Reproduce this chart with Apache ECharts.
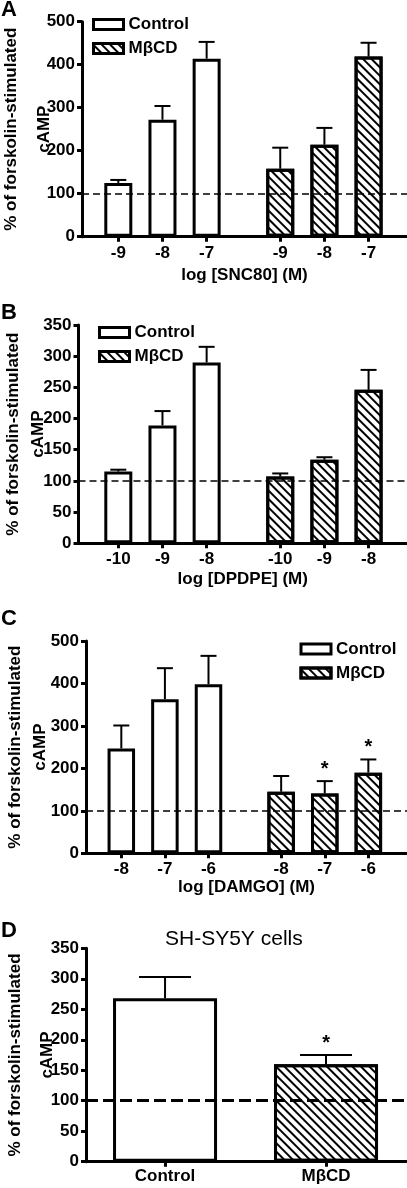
<!DOCTYPE html>
<html><head><meta charset="utf-8">
<script src="https://cdn.jsdelivr.net/npm/echarts@6/dist/echarts.min.js"></script>
<style>html,body{margin:0;padding:0;background:#fff}#chart{width:407px;height:1188px}</style>
</head><body><div id="chart"></div>
<script>
// ---------------- data ----------------
const dosesA = ['-9', '-8', '-7'];
const controlA = [125, 272, 414];
const controlSemA = [7, 32, 39];
const mbcdA = [158, 214, 419];
const mbcdSemA = [49, 39, 32];

const dosesB = ['-10', '-9', '-8'];
const controlB = [115, 189, 290];
const controlSemB = [3, 23, 25];
const mbcdB = [107, 134, 246];
const mbcdSemB = [5, 4, 32];

const dosesC = ['-8', '-7', '-6'];
const controlC = [247, 363, 398];
const controlSemC = [54, 73, 67];
const mbcdC = [145, 141, 190];
const mbcdSemC = [37, 29, 31];
const mbcdSigC = [0, 1, 1];

const groupsD = ['Control', 'MβCD'];
const meanD = [268, 160];
const semD = [35, 15];
const sigD = [0, 1];

const seriesNames = ['Control', 'MβCD'];
const xTitles = ['log [SNC80] (M)', 'log [DPDPE] (M)', 'log [DAMGO] (M)'];
const yTitle = '% of forskolin-stimulated\ncAMP';
const panelLetters = ['A', 'B', 'C', 'D'];
const titleD = 'SH-SY5Y cells';
const yMax = [500, 350, 500, 350];
const yStep = [100, 50, 100, 50];
const baseline = 100;

// ---------------- layout ----------------
const FONT = '"Liberation Sans", Arial, Helvetica, sans-serif';
const slots = [0, 3, 6, 11, 14, 17];
const slotsD = [0, 1];
const layout = [
  {grid: {left: 82, top: 21.7, right: 0, height: 215}, xMin: -2.466, xMax: 19.61, barW: 28, cap: 8, yGap: 21, yLH: 33, xGap: 30, legend: {left: 92, top: 16}},
  {grid: {left: 78.5, top: 325, right: 0, height: 218.3}, xMin: -2.704, xMax: 19.61, barW: 28, cap: 8, yGap: 28, yLH: 25, xGap: 28, legend: {left: 98, top: 324}},
  {grid: {left: 86, top: 641, right: 0, height: 212.3}, xMin: -2.43, xMax: 19.66, barW: 27.5, cap: 8, yGap: 33, yLH: 25, xGap: 26, legend: {left: 299.5, top: 640.5}},
  {grid: {left: 86, top: 948.3, right: 0, height: 213.4}, xMin: -0.491, xMax: 1.503, barW: 104, cap: 26, yGap: 23, yLH: 32, xGap: 0, legend: null}
];
const letterPos = [{left: 1, top: -1}, {left: 1, top: 302}, {left: 1, top: 608}, {left: 1, top: 920}];

const hatch = {symbol: 'rect', symbolSize: 1, color: '#000', dashArrayX: [1, 0], dashArrayY: [2, 4], rotation: Math.PI / 4};
const ctrlStyle = {color: '#fff', borderColor: '#000', borderWidth: 3};
const mbcdStyle = {color: '#fff', borderColor: '#000', borderWidth: 3, decal: hatch};
const boldText = {fontFamily: FONT, fontSize: 17, fontWeight: 'bold', color: '#000'};

const option = {
  animation: false,
  backgroundColor: '#fff',
  title: [], grid: [], xAxis: [], yAxis: [], series: [], legend: []
};

function errRender(capHalf, starSize) {
  return function (params, api) {
    const x = api.value(0), m = api.value(1), s = api.value(2), sig = api.value(3);
    const p0 = api.coord([x, m]);
    const p1 = api.coord([x, m + s]);
    const ls = {stroke: '#000', lineWidth: 2};
    const children = [
      {type: 'line', shape: {x1: p0[0], y1: p0[1], x2: p1[0], y2: p1[1]}, style: ls},
      {type: 'line', shape: {x1: p1[0] - capHalf, y1: p1[1], x2: p1[0] + capHalf, y2: p1[1]}, style: ls}
    ];
    if (sig) {
      children.push({type: 'text', x: p1[0], y: p1[1] - 2,
        style: {text: '*', fontFamily: FONT, fontSize: starSize, fontWeight: 'bold', fill: '#000', align: 'center', verticalAlign: 'bottom'}});
    }
    return {type: 'group', children};
  };
}

function addPanel(i, labels, pos, ctrl, ctrlSem, mb, mbSem, mbSig, xName) {
  const L = layout[i];
  option.grid.push(Object.assign({outerBoundsMode: 'none', containLabel: false}, L.grid));
  option.xAxis.push({
    type: 'value', gridIndex: i, min: L.xMin, max: L.xMax,
    axisLine: {show: true, onZero: false, lineStyle: {color: '#000', width: 3}},
    axisTick: {show: true, customValues: pos, length: 5, lineStyle: {color: '#000', width: 3}},
    axisLabel: {customValues: pos, margin: i === 3 ? 6 : 8, ...boldText,
      formatter: v => labels[pos.indexOf(Math.round(v))]},
    splitLine: {show: false},
    name: xName || '', nameLocation: 'middle', nameGap: L.xGap, nameMoveOverlap: false, nameTextStyle: boldText
  });
  option.yAxis.push({
    type: 'value', gridIndex: i, min: 0, max: yMax[i], interval: yStep[i],
    axisLine: {show: true, onZero: false, lineStyle: {color: '#000', width: 3}},
    axisTick: {show: true, length: 5, lineStyle: {color: '#000', width: 3}},
    axisLabel: {margin: 7, ...boldText},
    splitLine: {show: false},
    name: yTitle, nameLocation: 'middle', nameRotate: 90, nameGap: L.yGap, nameMoveOverlap: false,
    nameTextStyle: {...boldText, lineHeight: L.yLH}
  });
  const ctrlPos = pos.slice(0, ctrl.length);
  const mbPos = pos.slice(ctrl.length);
  option.series.push({
    type: 'bar', name: seriesNames[0], xAxisIndex: i, yAxisIndex: i,
    barWidth: L.barW, barGap: '-100%', itemStyle: ctrlStyle, z: 2,
    data: ctrl.map((v, k) => [ctrlPos[k], v])
  });
  option.series.push({
    type: 'bar', name: seriesNames[1], xAxisIndex: i, yAxisIndex: i,
    barWidth: L.barW, barGap: '-100%', itemStyle: mbcdStyle, z: 2,
    data: mb.map((v, k) => [mbPos[k], v]),
    markLine: {silent: true, symbol: 'none', label: {show: false}, z: 5,
      lineStyle: {color: '#000', type: i === 3 ? [12, 5] : [7, 4], width: i === 3 ? 3 : 1.5},
      data: [{yAxis: baseline}]}
  });
  const errData = ctrl.map((v, k) => [ctrlPos[k], v, ctrlSem[k], 0])
    .concat(mb.map((v, k) => [mbPos[k], v, mbSem[k], mbSig ? mbSig[k] : 0]));
  option.series.push({
    type: 'custom', xAxisIndex: i, yAxisIndex: i, z: 4, silent: true,
    encode: {x: 0, y: 1}, renderItem: errRender(L.cap, 20), data: errData
  });
  if (L.legend) {
    option.legend.push({
      orient: 'vertical', left: L.legend.left, top: L.legend.top, padding: 0,
      icon: 'rect', itemWidth: 30, itemHeight: 10, itemGap: 7,
      selectedMode: false, data: seriesNames,
      itemStyle: {borderColor: '#000', borderWidth: 3},
      textStyle: boldText
    });
  }
  option.title.push({text: panelLetters[i], left: letterPos[i].left, top: letterPos[i].top, padding: 0,
    textStyle: {fontFamily: FONT, fontSize: 22, fontWeight: 'bold', color: '#000'}});
}

addPanel(0, dosesA.concat(dosesA), slots, controlA, controlSemA, mbcdA, mbcdSemA, null, xTitles[0]);
addPanel(1, dosesB.concat(dosesB), slots, controlB, controlSemB, mbcdB, mbcdSemB, null, xTitles[1]);
addPanel(2, dosesC.concat(dosesC), slots, controlC, controlSemC, mbcdC, mbcdSemC, mbcdSigC, xTitles[2]);
// Panel D: one bar per group
addPanel(3, groupsD, slotsD, [meanD[0]], [semD[0]], [meanD[1]], [semD[1]], [sigD[1]], '');
option.title.push({text: titleD, left: 165, top: 929, padding: 0,
  textStyle: {fontFamily: FONT, fontSize: 21, fontWeight: 'normal', color: '#000'}});

const chart = echarts.init(document.getElementById('chart'), null, {renderer: 'canvas'});
chart.setOption(option);
</script></body></html>
